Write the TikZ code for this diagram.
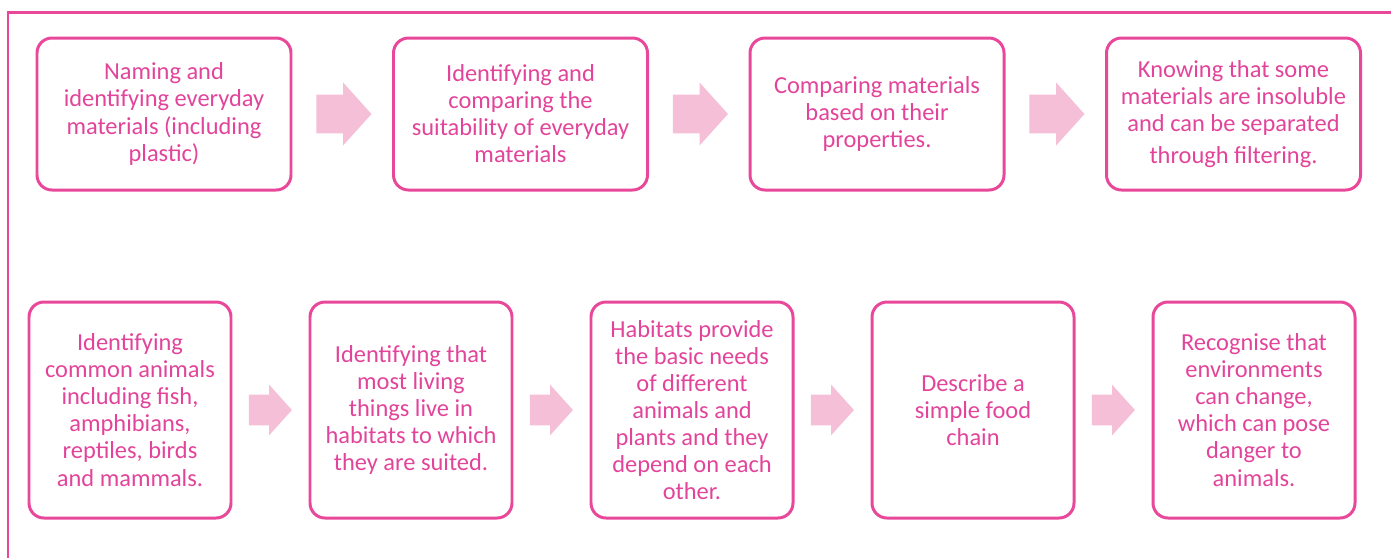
\documentclass[tikz,border=0pt]{standalone}
\usepackage{fontspec}
\setmainfont{Carlito}
\usetikzlibrary{positioning,shapes.arrows,calc}
\definecolor{topicPink}{HTML}{E8479A}
\definecolor{topicText}{HTML}{E2449A}
\definecolor{stepArrow}{HTML}{F4BFD7}

\begin{document}
\begin{tikzpicture}[
  topic/.style={draw=topicPink, line width=1.7pt, rounded corners=0.3cm, outer sep=0pt,
    align=center, text=topicText, font=\fontsize{13.9}{15.4}\selectfont},
  wide/.style={topic, minimum width=5.08cm, minimum height=3.04cm},
  tall/.style={topic, minimum width=4.04cm, minimum height=4.32cm},
  flow/.style={shape=single arrow, fill=stepArrow, draw=none, inner sep=0pt, outer sep=0pt,
    single arrow tip angle=96, xshift=-0.14cm},
  bigflow/.style={flow, minimum height=1.1cm, single arrow head extend=0.24cm},
  smallflow/.style={flow, minimum height=0.86cm, single arrow head extend=0.2cm}
]
  \useasboundingbox (0,0) rectangle (27.82,-11.16);
  % frame round the page, only top and left edges are in view
  \draw[topicPink, line width=1.7pt] (27.82,-0.24) -- (0.16,-0.24) -- (0.16,-11.16);

  % materials
  \node[wide] (naming) at (3.28,-2.28) {Naming and\\identifying everyday\\materials (including\\plastic)};
  \node[wide, right=2.05cm of naming] (suitability) {Identifying and\\comparing the\\suitability of everyday\\materials};
  \node[wide, right=2.05cm of suitability] (compare) {Comparing materials\\based on their\\properties.};
  \node[wide, right=2.05cm of compare] (filter) {Knowing that some\\materials are insoluble\\and can be separated\\[0.1cm]through filtering.};

  % living things
  \node[tall] (animals) at (2.6,-8.2) {Identifying\\common animals\\including fish,\\amphibians,\\reptiles, birds\\and mammals.};
  \node[tall, right=1.58cm of animals] (habitats) {Identifying that\\most living\\things live in\\habitats to which\\they are suited.};
  \node[tall, right=1.58cm of habitats] (needs) {Habitats provide\\the basic needs\\of different\\animals and\\plants and they\\depend on each\\other.};
  \node[tall, right=1.58cm of needs] (foodchain) {Describe a\\simple food\\chain};
  \node[tall, right=1.58cm of foodchain] (change) {Recognise that\\environments\\can change,\\which can pose\\danger to\\animals.};

  \node[bigflow] (f1) at ($(naming.east)!0.5!(suitability.west)$) {\rule{0pt}{0.76cm}};
  \node[bigflow] (f2) at ($(suitability.east)!0.5!(compare.west)$) {\rule{0pt}{0.76cm}};
  \node[bigflow] (f3) at ($(compare.east)!0.5!(filter.west)$) {\rule{0pt}{0.76cm}};

  \node[smallflow] (g1) at ($(animals.east)!0.5!(habitats.west)$) {\rule{0pt}{0.6cm}};
  \node[smallflow] (g2) at ($(habitats.east)!0.5!(needs.west)$) {\rule{0pt}{0.6cm}};
  \node[smallflow] (g3) at ($(needs.east)!0.5!(foodchain.west)$) {\rule{0pt}{0.6cm}};
  \node[smallflow] (g4) at ($(foodchain.east)!0.5!(change.west)$) {\rule{0pt}{0.6cm}};
\end{tikzpicture}
\end{document}
